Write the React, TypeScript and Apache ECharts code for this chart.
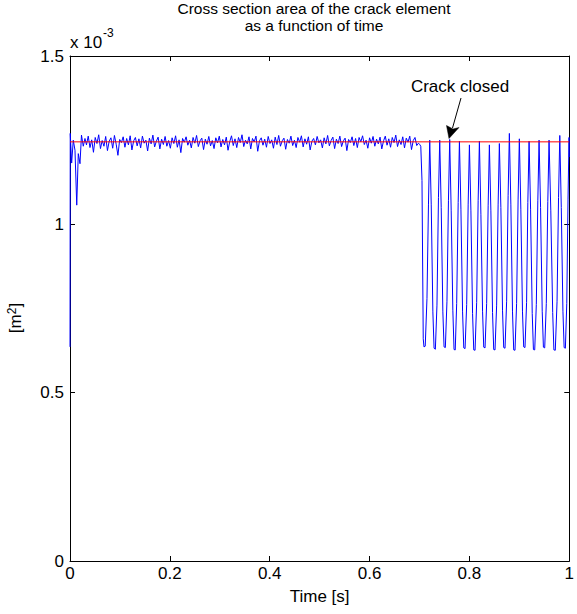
import React, { useEffect, useRef } from "react";
import * as echarts from "echarts";

// ---- data (values in units of 1e-3 m^2) ----
const xTicks = [0, 0.2, 0.4, 0.6, 0.8, 1];
const yTicks = [0, 0.5, 1, 1.5];
const referenceLevel = 1.245;

// initial transient [t, value]
const startPairs: number[][] = [
  [0, 0.636], [0.0005, 1.27], [0.0033, 1.182], [0.0066, 1.25], [0.010, 1.22],
  [0.0135, 1.057], [0.0166, 1.21], [0.020, 1.18], [0.023, 1.265], [0.0266, 1.232],
  [0.030, 1.255],
];

// steady noisy part, sampled every 0.0035 s from 0.033 s
const noiseStart = 0.033;
const noiseStep = 0.0035;
const noiseValues: number[] = [
  1.236, 1.262, 1.228, 1.251, 1.214, 1.258, 1.240, 1.266, 1.225, 1.249,
  1.232, 1.261, 1.219, 1.247, 1.257, 1.226, 1.264, 1.238, 1.205, 1.252,
  1.243, 1.260, 1.229, 1.255, 1.236, 1.263, 1.221, 1.248, 1.258, 1.233,
  1.254, 1.227, 1.262, 1.241, 1.250, 1.218, 1.256, 1.239, 1.265, 1.230,
  1.247, 1.259, 1.224, 1.253, 1.237, 1.261, 1.232, 1.249, 1.226, 1.257,
  1.240, 1.263, 1.229, 1.251, 1.213, 1.255, 1.244, 1.260, 1.235, 1.250,
  1.227, 1.258, 1.241, 1.264, 1.231, 1.248, 1.256, 1.222, 1.253, 1.238,
  1.261, 1.233, 1.249, 1.225, 1.257, 1.242, 1.262, 1.230, 1.252, 1.236,
  1.259, 1.220, 1.246, 1.263, 1.234, 1.254, 1.228, 1.258, 1.243, 1.266,
  1.231, 1.250, 1.239, 1.260, 1.224, 1.255, 1.245, 1.262, 1.217, 1.248,
  1.257, 1.235, 1.253, 1.229, 1.261, 1.240, 1.251, 1.226, 1.259, 1.237,
  1.264, 1.232, 1.248, 1.256, 1.223, 1.252, 1.241, 1.262, 1.234, 1.250,
  1.228, 1.258, 1.244, 1.263, 1.230, 1.254, 1.238, 1.260, 1.221, 1.247,
  1.255, 1.236, 1.261, 1.242, 1.251, 1.227, 1.257, 1.239, 1.264, 1.233,
  1.249, 1.259, 1.225, 1.253, 1.240, 1.262, 1.231, 1.248, 1.256, 1.219,
  1.252, 1.243, 1.260, 1.234, 1.255, 1.228, 1.258, 1.245, 1.263, 1.237,
  1.250, 1.226, 1.257, 1.241, 1.261, 1.232, 1.253, 1.239, 1.259, 1.224,
  1.248, 1.262, 1.235, 1.254, 1.229, 1.258, 1.243, 1.265, 1.231, 1.251,
  1.237, 1.260, 1.227, 1.256, 1.244, 1.262, 1.222, 1.249, 1.258, 1.234,
  1.241,
];

// crack opening/closing oscillation [t, value]
const oscillationPairs: number[][] = [
  [0.7000, 1.238], [0.7026, 1.232], [0.7050, 1.130], [0.7075, 0.660], [0.7090, 0.636], [0.7115, 0.638], [0.7150, 0.780], [0.7180, 1.060], [0.7205, 1.250],
  [0.7235, 1.060], [0.7268, 0.740], [0.7292, 0.632], [0.7318, 0.629], [0.7350, 0.760], [0.7380, 1.080], [0.7405, 1.250],
  [0.7435, 1.050], [0.7468, 0.740], [0.7492, 0.636], [0.7518, 0.634], [0.7550, 0.770], [0.7580, 1.070], [0.7605, 1.252],
  [0.7635, 1.040], [0.7668, 0.745], [0.7692, 0.628], [0.7716, 0.627], [0.7745, 0.765], [0.7775, 1.065], [0.7800, 1.247],
  [0.7830, 1.045], [0.7863, 0.740], [0.7887, 0.633], [0.7913, 0.631], [0.7945, 0.762], [0.7975, 1.060], [0.8000, 1.236],
  [0.8030, 1.040], [0.8063, 0.735], [0.8087, 0.627], [0.8113, 0.626], [0.8145, 0.768], [0.8175, 1.070], [0.8200, 1.247],
  [0.8230, 1.030], [0.8263, 0.742], [0.8287, 0.635], [0.8313, 0.633], [0.8345, 0.765], [0.8375, 1.055], [0.8400, 1.236],
  [0.8430, 1.040], [0.8463, 0.738], [0.8487, 0.628], [0.8513, 0.627], [0.8545, 0.760], [0.8575, 1.060], [0.8600, 1.240],
  [0.8630, 1.050], [0.8663, 0.745], [0.8687, 0.634], [0.8713, 0.632], [0.8745, 0.770], [0.8775, 1.085], [0.8800, 1.270],
  [0.8830, 1.060], [0.8863, 0.740], [0.8887, 0.627], [0.8913, 0.626], [0.8945, 0.765], [0.8975, 1.075], [0.9000, 1.254],
  [0.9030, 1.045], [0.9063, 0.740], [0.9087, 0.636], [0.9113, 0.634], [0.9145, 0.768], [0.9170, 1.065], [0.9195, 1.247],
  [0.9225, 1.045], [0.9258, 0.735], [0.9282, 0.628], [0.9308, 0.627], [0.9340, 0.762], [0.9370, 1.070], [0.9395, 1.250],
  [0.9425, 1.050], [0.9458, 0.742], [0.9482, 0.635], [0.9508, 0.633], [0.9540, 0.765], [0.9570, 1.068], [0.9595, 1.250],
  [0.9630, 1.040], [0.9668, 0.738], [0.9692, 0.627], [0.9720, 0.626], [0.9755, 0.770], [0.9785, 1.080], [0.9810, 1.264],
  [0.9840, 1.050], [0.9873, 0.742], [0.9897, 0.634], [0.9922, 0.632], [0.9950, 0.765], [0.9975, 1.075], [0.9995, 1.258], [1.0000, 1.200],
];

const titleLines = ["Cross section area of the crack element", "as a function of time"];
const annotationText = "Crack closed";

const FONT = "'Liberation Sans', Arial, Helvetica, sans-serif";

export default function App() {
  const ref = useRef<HTMLDivElement>(null);

  useEffect(() => {
    if (!ref.current) return;
    const chart = echarts.init(ref.current, undefined, { renderer: "svg" });

    const blue: number[][] = [
      ...startPairs,
      ...noiseValues.map((v, i) => [noiseStart + i * noiseStep, v]),
      ...oscillationPairs,
    ];
    const red: number[][] = [
      [xTicks[0], referenceLevel],
      [xTicks[xTicks.length - 1], referenceLevel],
    ];

    const axisLine = { show: true, onZero: false, lineStyle: { color: "#000", width: 1 } };
    const axisTick = { show: true, inside: true, length: 5, lineStyle: { color: "#000", width: 1 } };
    const labelStyle = { color: "#000", fontSize: 17, fontFamily: FONT };

    const xBase = {
      type: "value",
      min: xTicks[0],
      max: xTicks[xTicks.length - 1],
      interval: 0.2,
      axisLine,
      axisTick,
      splitLine: { show: false },
    };
    const yBase = {
      type: "value",
      min: yTicks[0],
      max: yTicks[yTicks.length - 1],
      interval: 0.5,
      axisLine,
      axisTick,
      splitLine: { show: false },
    };

    chart.setOption({
      animation: false,
      backgroundColor: "#ffffff",
      grid: { left: 70, right: 5, top: 56, bottom: 53, containLabel: false },
      xAxis: [
        {
          ...xBase,
          position: "bottom",
          axisLabel: { ...labelStyle, margin: 4 },
          name: "Time [s]",
          nameLocation: "middle",
          nameGap: 27,
          nameTextStyle: { ...labelStyle },
        },
        { ...xBase, position: "top", axisLabel: { show: false } },
      ],
      yAxis: [
        { ...yBase, position: "left", axisLabel: { ...labelStyle, margin: 6 } },
        { ...yBase, position: "right", axisLabel: { show: false } },
      ],
      series: [
        {
          type: "line",
          data: blue,
          xAxisIndex: 0,
          yAxisIndex: 0,
          symbol: "none",
          showSymbol: false,
          lineStyle: { color: "#0000ff", width: 1 },
          z: 3,
        },
        {
          type: "line",
          data: red,
          xAxisIndex: 0,
          yAxisIndex: 0,
          symbol: "none",
          showSymbol: false,
          lineStyle: { color: "#ff0000", width: 1 },
          z: 4,
        },
      ],
      graphic: [
        {
          type: "text",
          x: 314,
          y: 17,
          style: {
            text: titleLines.join("\n"),
            fontSize: 15.5,
            lineHeight: 17,
            fontFamily: FONT,
            fill: "#000",
            align: "center",
            verticalAlign: "middle",
          },
        },
        {
          type: "text",
          x: 70,
          y: 42,
          style: { text: "x 10", fontSize: 17, fontFamily: FONT, fill: "#000", align: "left", verticalAlign: "middle" },
        },
        {
          type: "text",
          x: 103,
          y: 33,
          style: { text: "-3", fontSize: 12, fontFamily: FONT, fill: "#000", align: "left", verticalAlign: "middle" },
        },
        {
          type: "text",
          x: 15,
          y: 318,
          rotation: Math.PI / 2,
          style: {
            text: "[m{s|2}]",
            fontSize: 17,
            fontFamily: FONT,
            fill: "#000",
            align: "center",
            verticalAlign: "middle",
            rich: {
              s: { fontSize: 12, fontFamily: FONT, fill: "#000", verticalAlign: "top", padding: [0, 0, 6, 0] },
            },
          },
        },
        {
          type: "text",
          x: 460,
          y: 86.5,
          style: { text: annotationText, fontSize: 17, fontFamily: FONT, fill: "#000", align: "center", verticalAlign: "middle" },
        },
        {
          type: "line",
          shape: { x1: 461, y1: 98, x2: 452.5, y2: 128 },
          style: { stroke: "#000", lineWidth: 1 },
        },
        {
          type: "polygon",
          shape: { points: [[449, 138.5], [446.5, 125.5], [453, 129], [459, 127.5]] },
          style: { fill: "#000", stroke: "#000", lineWidth: 0.5 },
        },
      ],
    });

    return () => chart.dispose();
  }, []);

  return (
    <div
      ref={ref}
      style={{ position: "fixed", left: 0, top: 0, width: 577, height: 614, background: "#fff" }}
    />
  );
}
